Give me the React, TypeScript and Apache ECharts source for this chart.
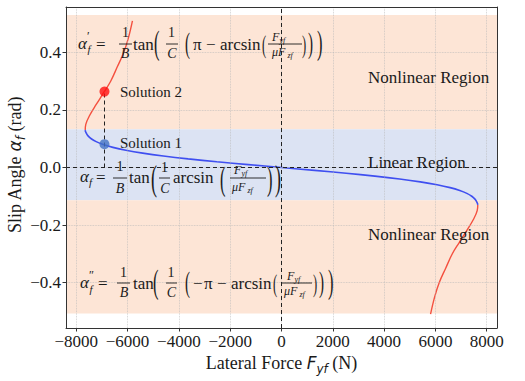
import React, { useEffect, useRef } from 'react';
import * as echarts from 'echarts';

// ---- data ----
const linearAlpha = [0.13, 0.125, 0.12, 0.11, 0.1, 0.09, 0.08, 0.07, 0.06, 0.05, 0.04, 0.03, 0.02, 0.01, 0, -0.01, -0.02, -0.03, -0.04, -0.05, -0.06, -0.07, -0.08, -0.09, -0.1, -0.11, -0.12, -0.125, -0.13];
const linearForce = [-7650, -7640, -7613, -7541, -7417, -7225, -6948, -6571, -6066, -5412, -4605, -3639, -2522, -1291, 0, 1291, 2522, 3639, 4605, 5412, 6066, 6571, 6948, 7225, 7417, 7541, 7613, 7640, 7650];
const upperAlpha = [0.13, 0.15, 0.18, 0.22, 0.26, 0.3, 0.35, 0.4, 0.45, 0.51];
const upperForce = [-7650, -7628, -7485, -7215, -6934, -6659, -6400, -6150, -5970, -5810];
const lowerAlpha = [-0.13, -0.15, -0.18, -0.22, -0.26, -0.3, -0.35, -0.4, -0.45, -0.51];
const lowerForce = [7650, 7628, 7485, 7215, 6934, 6659, 6400, 6150, 5970, 5810];
const solutionForce = -6900;
const solution1Alpha = 0.081;
const solution2Alpha = 0.264;
const xTicks = [-8000, -6000, -4000, -2000, 0, 2000, 4000, 6000, 8000];
const yTicks = [-0.4, -0.2, 0, 0.2, 0.4];
const upperBand = [0.133, 0.53];
const linearBand = [-0.114, 0.133];
const lowerBand = [-0.508, -0.114];

const serif = 'Liberation Serif';
const sans = 'DejaVu Sans';
const ink = '#1a1a1a';

const zip = (xs: number[], ys: number[]) => xs.map((x, i) => [x, ys[i]]);
const minus = (s: string) => s.replace('-', '\u2212');

function txt(x: number, y: number, text: string, size: number, opts: any = {}) {
  return {
    type: 'text', x, y, z: 100, silent: true, scaleX: opts.sx ?? 1,
    style: {
      text, fontSize: size, fontFamily: opts.font ?? serif,
      fontStyle: opts.italic ? 'italic' : 'normal', fill: ink,
      align: opts.align ?? 'left', verticalAlign: 'middle',
    },
  };
}
function bar(x1: number, x2: number, y: number) {
  return { type: 'line', z: 100, silent: true, shape: { x1, y1: y, x2, y2: y }, style: { stroke: ink, lineWidth: 0.9 } };
}
function paren(x: number, y: number, h: number, ch: string) {
  return txt(x, y, ch, h, { sx: 0.5 });
}

function formulaTop(): any[] {
  return [
    txt(78, 43, 'α', 17, { italic: true }), txt(87, 36, '′', 12), txt(87.5, 49, 'f', 11, { italic: true }),
    txt(96, 44, '=', 17),
    txt(125.5, 32, '1', 14, { align: 'center' }), bar(119, 132, 44), txt(125, 53, 'B', 14, { italic: true, align: 'center' }),
    txt(133, 44, 'tan', 17),
    paren(154, 43, 33, '('),
    txt(171.5, 32, '1', 14, { align: 'center' }), bar(166, 178, 44), txt(172, 53, 'C', 14, { italic: true, align: 'center' }),
    paren(185, 43, 30, '('),
    txt(193, 44, 'π', 17), txt(206, 44, '\u2212', 17), txt(220, 44, 'arcsin', 17),
    paren(262, 44, 25, '('),
    txt(272, 37, 'F', 12, { italic: true }), txt(279.5, 40, 'yf', 8, { italic: true }),
    bar(268, 302, 44),
    txt(272, 52, 'μF', 12, { italic: true }), txt(287.5, 55, 'zf', 8, { italic: true }),
    paren(302, 44, 25, ')'), paren(308, 43, 30, ')'), paren(317, 43, 33, ')'),
  ];
}
function formulaMid(): any[] {
  return [
    txt(80, 176, 'α', 17, { italic: true }), txt(89, 182, 'f', 11, { italic: true }),
    txt(96, 177, '=', 17),
    txt(120, 166, '1', 14, { align: 'center' }), bar(113, 127, 178), txt(120, 188, 'B', 14, { italic: true, align: 'center' }),
    txt(129, 177, 'tan', 17),
    paren(151, 178, 36, '('),
    txt(164.5, 167, '1', 14, { align: 'center' }), bar(159, 170, 178), txt(165, 188, 'C', 14, { italic: true, align: 'center' }),
    txt(173, 177, 'arcsin', 17),
    paren(220, 179, 33, '('),
    txt(234, 170, 'F', 12, { italic: true }), txt(241.5, 173, 'yf', 8, { italic: true }),
    bar(230, 266, 178),
    txt(232, 187, 'μF', 12, { italic: true }), txt(247.5, 190, 'zf', 8, { italic: true }),
    paren(267, 179, 33, ')'), paren(275, 178, 36, ')'),
  ];
}
function formulaBot(): any[] {
  return [
    txt(80, 282, 'α', 17, { italic: true }), txt(89, 275, '″', 12), txt(89.5, 289, 'f', 11, { italic: true }),
    txt(98, 283, '=', 17),
    txt(123.5, 272, '1', 14, { align: 'center' }), bar(117, 130, 283), txt(124, 292, 'B', 14, { italic: true, align: 'center' }),
    txt(133, 283, 'tan', 17),
    paren(153, 282, 33, '('),
    txt(171, 272, '1', 14, { align: 'center' }), bar(166, 177, 283), txt(171.5, 292, 'C', 14, { italic: true, align: 'center' }),
    paren(185, 282, 30, '('),
    txt(193, 283, '\u2212', 17), txt(204, 283, 'π', 17), txt(217, 283, '\u2212', 17), txt(231, 283, 'arcsin', 17),
    paren(273, 283, 25, '('),
    txt(287, 276, 'F', 12, { italic: true }), txt(294.5, 279, 'yf', 8, { italic: true }),
    bar(282, 312, 283),
    txt(284, 291, 'μF', 12, { italic: true }), txt(299.5, 294, 'zf', 8, { italic: true }),
    paren(313, 283, 25, ')'), paren(319, 282, 30, ')'), paren(328, 282, 33, ')'),
  ];
}

export default function App() {
  const ref = useRef<HTMLDivElement>(null);
  useEffect(() => {
    if (!ref.current) return;
    const chart = echarts.init(ref.current, undefined, { renderer: 'svg' });
    const gridLine = { color: '#b8b8b8', type: 'dotted', width: 0.8, opacity: 0.8 };
    const tickLabel = { margin: 5, fontSize: 17, fontFamily: serif, fontWeight: 'normal', color: ink };
    const option: any = {
      animation: false,
      backgroundColor: '#ffffff',
      textStyle: { fontFamily: serif },
      grid: { left: 66, right: 28, top: 7, bottom: 53, containLabel: false, outerBoundsMode: 'none' },
      xAxis: [
        {
          type: 'value', min: -8400, max: 8400, position: 'bottom', z: 10,
          splitLine: { show: false },
          axisLine: { show: true, onZero: false, lineStyle: { color: '#333', width: 1 } },
          axisTick: { show: true, inside: false, length: 3.5, customValues: xTicks, lineStyle: { color: '#333' } },
          axisLabel: { ...tickLabel, customValues: xTicks, formatter: (v: number) => minus(String(v)) },
        },
        {
          type: 'value', min: -8400, max: 8400, position: 'top', z: 10,
          splitLine: { show: false }, axisTick: { show: false }, axisLabel: { show: false },
          axisLine: { show: true, onZero: false, lineStyle: { color: '#333', width: 1 } },
        },
      ],
      yAxis: [
        {
          type: 'value', min: -0.558, max: 0.558, position: 'left', z: 10,
          splitLine: { show: false },
          axisLine: { show: true, onZero: false, lineStyle: { color: '#333', width: 1 } },
          axisTick: { show: true, inside: false, length: 3.5, customValues: yTicks, lineStyle: { color: '#333' } },
          axisLabel: { ...tickLabel, customValues: yTicks, formatter: (v: number) => minus(v.toFixed(1)) },
        },
        {
          type: 'value', min: -0.558, max: 0.558, position: 'right', z: 10,
          splitLine: { show: false }, axisTick: { show: false }, axisLabel: { show: false },
          axisLine: { show: true, onZero: false, lineStyle: { color: '#333', width: 1 } },
        },
      ],
      series: [
        {
          type: 'line', data: [], z: 1, silent: true,
          markArea: {
            silent: true,
            data: [
              [{ yAxis: upperBand[0], itemStyle: { color: '#fde5d6' } }, { yAxis: upperBand[1] }],
              [{ yAxis: linearBand[0], itemStyle: { color: '#dce3f3' } }, { yAxis: linearBand[1] }],
              [{ yAxis: lowerBand[0], itemStyle: { color: '#fde5d6' } }, { yAxis: lowerBand[1] }],
            ],
          },
        },
        {
          type: 'line', data: [], z: 2, silent: true,
          markLine: {
            silent: true, symbol: 'none', label: { show: false }, lineStyle: gridLine,
            data: [...xTicks.map((v) => ({ xAxis: v })), ...yTicks.map((v) => ({ yAxis: v }))],
          },
        },
        {
          type: 'line', data: [], z: 3, silent: true,
          markLine: {
            silent: true, symbol: 'none', label: { show: false },
            lineStyle: { color: '#222', type: [4, 3], width: 1 },
            data: [
              { xAxis: 0 },
              { yAxis: 0 },
              [{ coord: [solutionForce, 0] }, { coord: [solutionForce, solution2Alpha] }],
            ],
          },
        },
        {
          type: 'line', data: zip(linearForce, linearAlpha), z: 4, showSymbol: false, smooth: 0.4,
          lineStyle: { color: '#3f4ff0', width: 1.6 }, itemStyle: { color: '#3f4ff0' },
        },
        {
          type: 'line', data: zip(upperForce, upperAlpha), z: 4, showSymbol: false, smooth: 0.4,
          lineStyle: { color: '#f4503f', width: 1.4 }, itemStyle: { color: '#f4503f' },
        },
        {
          type: 'line', data: zip(lowerForce, lowerAlpha), z: 4, showSymbol: false, smooth: 0.4,
          lineStyle: { color: '#f4503f', width: 1.4 }, itemStyle: { color: '#f4503f' },
        },
        {
          type: 'scatter', data: [[solutionForce, solution2Alpha]], z: 5, symbolSize: 10,
          itemStyle: { color: '#ff1010' },
        },
        {
          type: 'scatter', data: [[solutionForce, solution1Alpha]], z: 5, symbolSize: 10,
          itemStyle: { color: '#4472c4' },
        },
      ],
      graphic: [
        ...formulaTop(),
        ...formulaMid(),
        ...formulaBot(),
        txt(120, 92, 'Solution 2', 15),
        txt(120, 142.5, 'Solution 1', 15),
        txt(368, 77, 'Nonlinear Region', 17),
        txt(368, 162.5, 'Linear Region', 17),
        txt(368, 234.5, 'Nonlinear Region', 17),
        {
          type: 'text', x: 281.5, y: 363, z: 100, silent: true,
          style: {
            text: '{r|Lateral Force }{i|F}{s|yf}{r| (N)}', align: 'center', verticalAlign: 'middle', fill: ink,
            rich: {
              r: { fontFamily: serif, fontSize: 18, lineHeight: 24, verticalAlign: 'middle', fill: ink },
              i: { fontFamily: sans, fontStyle: 'italic', fontSize: 17, lineHeight: 24, verticalAlign: 'middle', fill: ink },
              s: { fontFamily: sans, fontStyle: 'italic', fontSize: 12, lineHeight: 13, verticalAlign: 'bottom', fill: ink },
            },
          },
        },
        {
          type: 'text', x: 15, y: 165, z: 100, silent: true, rotation: Math.PI / 2,
          style: {
            text: '{r|Slip Angle }{i|α}{s|f}{r| (rad)}', align: 'center', verticalAlign: 'middle', fill: ink,
            rich: {
              r: { fontFamily: serif, fontSize: 18, lineHeight: 24, verticalAlign: 'middle', fill: ink },
              i: { fontFamily: sans, fontStyle: 'italic', fontSize: 17, lineHeight: 24, verticalAlign: 'middle', fill: ink },
              s: { fontFamily: sans, fontStyle: 'italic', fontSize: 12, lineHeight: 13, verticalAlign: 'bottom', fill: ink },
            },
          },
        },
      ],
    };
    chart.setOption(option);
    return () => chart.dispose();
  }, []);
  return <div ref={ref} style={{ position: 'fixed', left: 0, top: 0, width: 525, height: 381 }} />;
}
